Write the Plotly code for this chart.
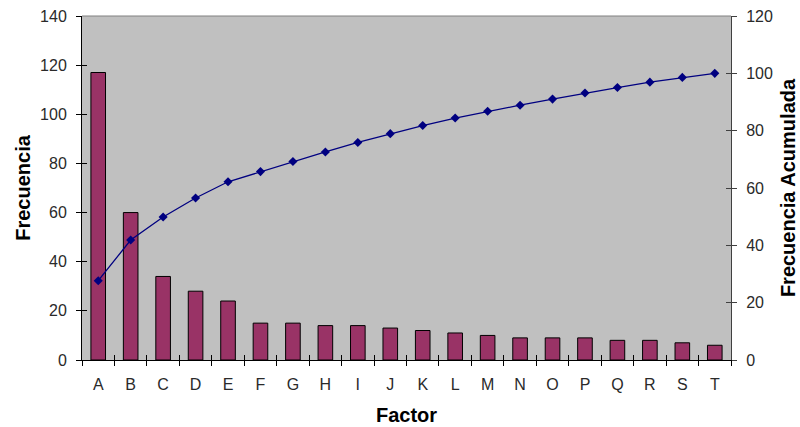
import numpy as np
import plotly.graph_objects as go

# Pareto data: frequency per factor
factores = ["A", "B", "C", "D", "E", "F", "G", "H", "I", "J",
            "K", "L", "M", "N", "O", "P", "Q", "R", "S", "T"]
frecuencia = [117, 60, 34, 28, 24, 15, 15, 14, 14, 13,
              12, 11, 10, 9, 9, 9, 8, 8, 7, 6]

# Cumulative percentage of the total
acumulada = np.cumsum(frecuencia) / np.sum(frecuencia) * 100

font_family = "Liberation Sans, Arial, sans-serif"
tick_font = dict(family=font_family, size=16, color="#2a2a2a")
title_font = dict(family=font_family, size=20, color="#000000")
x_range = [-0.5, len(factores) - 0.5]

fig = go.Figure()

fig.add_trace(go.Bar(
    x=factores,
    y=frecuencia,
    marker=dict(color="#993366", line=dict(color="#000000", width=1)),
    name="Frecuencia",
    yaxis="y",
))

fig.add_trace(go.Scatter(
    x=factores,
    y=acumulada,
    mode="lines+markers",
    line=dict(color="#000080", width=1.3),
    marker=dict(symbol="diamond", size=7, color="#000080"),
    name="Frecuencia Acumulada",
    yaxis="y2",
))

# Helper traces (drawn invisibly) that carry the inner halves of the
# crossing tick marks on the overlay axes
fig.add_trace(go.Scatter(x=factores, y=frecuencia, mode="none",
                         hoverinfo="skip", xaxis="x2", yaxis="y3"))
fig.add_trace(go.Scatter(x=factores, y=acumulada, mode="none",
                         hoverinfo="skip", xaxis="x2", yaxis="y4"))

common_y = dict(showgrid=False, zeroline=False, automargin=False)

fig.update_layout(
    width=800,
    height=427,
    margin=dict(l=82, r=69, t=16, b=67),
    paper_bgcolor="#ffffff",
    plot_bgcolor="#c0c0c0",
    showlegend=False,
    bargap=0.55,
    xaxis=dict(
        title=dict(text="<b>Factor</b>", font=title_font),
        type="category",
        range=x_range,
        tickfont=tick_font,
        showgrid=False,
        showline=True,
        linecolor="#000000",
        linewidth=1,
        ticks="outside",
        ticklen=5,
        tickcolor="#000000",
        tickson="boundaries",
        ticklabelstandoff=10,
        zeroline=False,
        automargin=False,
    ),
    xaxis2=dict(
        type="category",
        overlaying="x",
        side="bottom",
        anchor="y",
        range=x_range,
        showticklabels=False,
        showline=False,
        showgrid=False,
        ticks="inside",
        ticklen=5,
        tickcolor="#000000",
        tickson="boundaries",
        zeroline=False,
        automargin=False,
    ),
    yaxis=dict(
        title=dict(text="<b>Frecuencia</b>", font=title_font, standoff=4),
        range=[0, 140],
        dtick=20,
        tickfont=tick_font,
        showline=True,
        linecolor="#000000",
        linewidth=1,
        ticks="outside",
        ticklen=5,
        tickcolor="#000000",
        ticklabelstandoff=6,
        **common_y,
    ),
    yaxis2=dict(
        title=dict(text="<b>Frecuencia Acumulada</b>", font=title_font, standoff=9),
        range=[0, 120],
        dtick=20,
        overlaying="y",
        side="right",
        tickfont=tick_font,
        showline=True,
        linecolor="#404040",
        linewidth=1,
        ticks="outside",
        ticklen=5,
        tickcolor="#404040",
        ticklabelstandoff=6,
        **common_y,
    ),
    yaxis3=dict(
        range=[0, 140],
        dtick=20,
        overlaying="y",
        side="left",
        showticklabels=False,
        showline=False,
        ticks="inside",
        ticklen=5,
        tickcolor="#000000",
        **common_y,
    ),
    yaxis4=dict(
        range=[0, 120],
        dtick=20,
        overlaying="y",
        side="right",
        showticklabels=False,
        showline=False,
        ticks="inside",
        ticklen=5,
        tickcolor="#404040",
        **common_y,
    ),
    shapes=[
        dict(type="line", xref="paper", yref="paper", x0=0, x1=1, y0=1, y1=1,
             line=dict(color="#808080", width=1)),
    ],
)

fig.write_html("out.html")
